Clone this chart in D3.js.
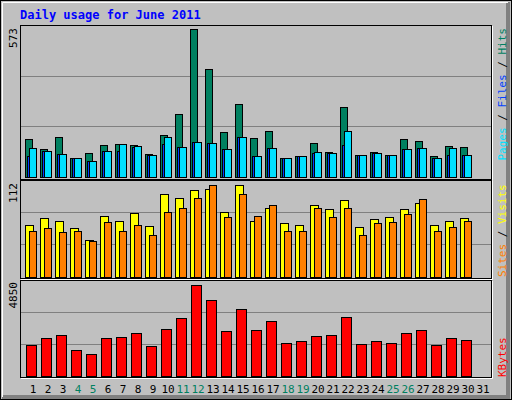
<!DOCTYPE html>
<html><head><meta charset="utf-8">
<script src="https://cdn.jsdelivr.net/npm/d3@7"></script>
<style>body{margin:0;background:#fff}</style>
</head><body>
<script>
var days = d3.range(1, 32);
var weekend = [4, 5, 11, 12, 18, 19, 25, 26];
var hits  = [146,106,154,71,92,123,127,123,88,161,243,573,417,173,281,150,177,72,80,130,96,270,84,96,84,146,138,80,119,115,0];
var files = [81,99,88,71,61,99,99,116,84,127,115,134,130,107,154,80,111,72,80,92,92,123,84,92,84,107,111,72,84,84,0];
var pages = [111,99,88,71,61,99,127,119,84,154,115,134,130,107,154,80,111,72,80,96,92,177,84,92,84,107,111,72,111,84,0];
var visits = [63,71,67,59,45,74,67,77,62,101,95,105,107,79,112,68,83,65,63,87,82,93,60,70,73,82,89,63,68,71,0];
var sites  = [56,59,54,55,43,66,56,63,51,79,84,95,112,73,101,74,87,56,56,84,72,84,51,65,66,76,94,56,60,68,0];
var kbytes = [1611,1983,2142,1345,1133,1983,2036,2248,1558,2460,3045,4850,4000,2354,3522,2407,2885,1717,1823,2089,2142,3098,1664,1823,1717,2248,2407,1611,1983,1876,0];

var W = 512, H = 400, font = "'DejaVu Sans Mono', monospace";
var svg = d3.select("body").append("svg").attr("width", W).attr("height", H);

svg.append("rect").attr("x", 0).attr("y", 0).attr("width", W).attr("height", H).attr("fill", "#c0c0c0");
svg.append("path").attr("d", "M508,2V397H2").attr("stroke", "#808080").attr("stroke-width", 4).attr("fill", "none");
svg.append("rect").attr("x", 0.5).attr("y", 0.5).attr("width", W - 1).attr("height", H - 1).attr("fill", "none").attr("stroke", "#000");
svg.append("path").attr("d", "M2.5,397V2.5H508").attr("stroke", "#fff").attr("fill", "none");

svg.append("text").attr("x", 20).attr("y", 19).attr("font-family", font).attr("font-weight", "bold")
	.attr("font-size", 12).attr("fill", "#0000ff").text("Daily usage for June 2011");

var x = d3.scaleLinear().domain([1, 31]).range([25, 475]);

function panel(y0, y1, base, top, max) {
	svg.append("rect").attr("x", 20.5).attr("y", y0 + 0.5).attr("width", 471).attr("height", y1 - y0)
		.attr("fill", "#c0c0c0").attr("stroke", "#000");
	svg.append("path").attr("d", "M21," + (y1 + 1.5) + "H492.5V" + (y0 + 1)).attr("stroke", "#fff").attr("fill", "none");
	var y = d3.scaleLinear().domain([0, max]).range([base, top]);
	var h = base - y0;
	[1, 2].forEach(function(k) {
		var gy = Math.round(base - h * k / 3) + 0.5;
		svg.append("line").attr("x1", 21).attr("x2", 491).attr("y1", gy).attr("y2", gy).attr("stroke", "#808080");
	});
	return y;
}

function bars(y, data, off, w, color) {
	svg.append("g").selectAll("rect").data(days.filter(function(d) { return data[d - 1] > 0; }))
		.enter().append("rect")
		.attr("x", function(d) { return x(d) + off + 0.5; })
		.attr("y", function(d) { return Math.round(y(data[d - 1])) + 0.5; })
		.attr("width", w)
		.attr("height", function(d) { return Math.round(y(0)) - Math.round(y(data[d - 1])); })
		.attr("fill", color).attr("stroke", "#000");
}

var y1 = panel(25, 179, 176.5, 29, 573);
bars(y1, hits, 0, 7, "#008060");
bars(y1, files, 2, 7, "#0040ff");
bars(y1, pages, 4, 7, "#00e0ff");

var y2 = panel(180, 278, 276.5, 184.5, 112);
bars(y2, visits, 0, 8, "#ffff00");
bars(y2, sites, 4, 7, "#ff8000");

var y3 = panel(280, 377, 375.5, 284.5, 4850);
bars(y3, kbytes, 1, 10, "#ff0000");

function leftLabel(txt, yTop) {
	svg.append("text").attr("transform", "translate(17," + yTop + ") rotate(-90)")
		.attr("text-anchor", "end").attr("font-family", font).attr("font-size", 11).text(txt);
}
leftLabel("573", 28);
leftLabel("112", 183);
leftLabel("4850", 282);

function rightLabel(parts, yPos, anchor) {
	var t = svg.append("text").attr("transform", "translate(506," + yPos + ") rotate(-90)")
		.attr("text-anchor", anchor).attr("font-family", font).attr("font-size", 11);
	parts.forEach(function(p) { t.append("tspan").attr("fill", p[1]).text(p[0]); });
}
rightLabel([["Pages", "#00e0ff"], [" / ", "#000"], ["Files", "#0040ff"], [" / ", "#000"], ["Hits", "#008060"]], 28, "end");
rightLabel([["Sites", "#ff8000"], [" / ", "#000"], ["Visits", "#ffff00"]], 277, "start");
rightLabel([["KBytes", "#ff0000"]], 377, "start");

svg.append("g").selectAll("text").data(days).enter().append("text")
	.attr("x", function(d) { return x(d) + 8; }).attr("y", 393)
	.attr("text-anchor", "middle").attr("font-family", font).attr("font-size", 11)
	.attr("fill", function(d) { return weekend.indexOf(d) >= 0 ? "#008060" : "#000"; })
	.text(function(d) { return d; });
</script>
</body></html>
